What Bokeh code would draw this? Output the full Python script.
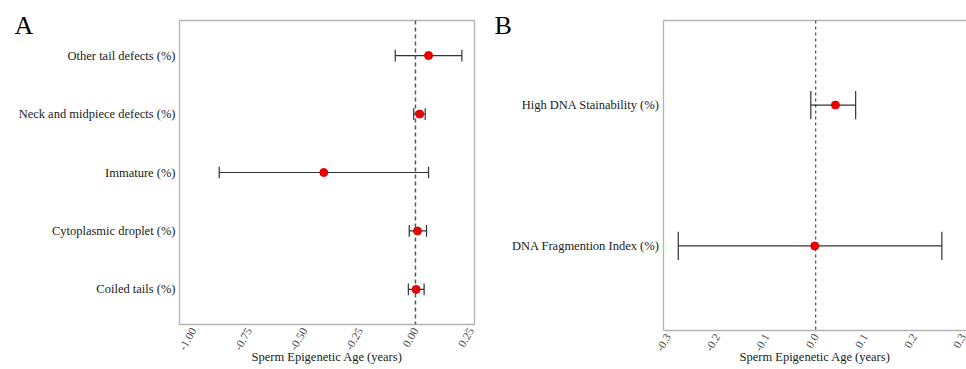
import math
from bokeh.plotting import figure
from bokeh.models import Range1d, FixedTicker, Span, LinearAxis, PrintfTickFormatter, ColumnDataSource
from bokeh.layouts import row
from bokeh.embed import file_html
from bokeh.resources import INLINE

# ---------------- data ----------------
a_labels = ["Other tail defects (%)", "Neck and midpiece defects (%)", "Immature (%)",
            "Cytoplasmic droplet (%)", "Coiled tails (%)"]
a_est = [0.059, 0.019, -0.413, 0.009, 0.003]
a_low = [-0.091, -0.008, -0.884, -0.028, -0.032]
a_high = [0.209, 0.044, 0.059, 0.050, 0.039]
a_ticks = [-1.0, -0.75, -0.5, -0.25, 0.0, 0.25]

b_labels = ["High DNA Stainability (%)", "DNA Fragmention Index (%)"]
b_est = [0.040, -0.002]
b_low = [-0.010, -0.279]
b_high = [0.081, 0.256]
b_ticks = [-0.3, -0.2, -0.1, 0.0, 0.1, 0.2, 0.3]

x_title = "Sperm Epigenetic Age (years)"

SERIF = "Liberation Serif"
BORDER = "#b3b3b3"


def panel(letter, labels, est, low, high, ticks, fmt, xr, width, height,
          border_left, border_right, border_bottom, label_standoff, title_standoff,
          dash_color, dash_width, dash, use_outline):
    n = len(labels)
    ypos = list(range(n, 0, -1))
    src = ColumnDataSource(dict(y=ypos, est=est, low=low, high=high,
                                y0=[v - 0.1 for v in ypos], y1=[v + 0.1 for v in ypos]))
    p = figure(width=width, height=height, x_range=Range1d(*xr), y_range=Range1d(0.4, n + 0.6),
               output_backend="svg", toolbar_location=None, frame_align=False,
               min_border_left=border_left, min_border_right=border_right,
               min_border_top=20, min_border_bottom=border_bottom)
    p.grid.visible = False
    p.background_fill_color = "white"
    p.border_fill_color = "white"
    if use_outline:
        p.outline_line_color = BORDER
        p.outline_line_width = 1.3
    else:
        p.outline_line_color = None

    # panel letter as the (left aligned) title
    p.title.text = letter
    p.title.align = "left"
    p.title.offset = -(border_left - 14)
    p.title.vertical_align = "bottom"
    p.title.standoff = -38
    p.title.text_font = SERIF
    p.title.text_font_size = "26px"
    p.title.text_font_style = "normal"
    p.title.text_color = "black"

    # x axis
    xa = p.xaxis[0]
    xa.ticker = FixedTicker(ticks=ticks)
    xa.formatter = PrintfTickFormatter(format=fmt)
    xa.major_label_orientation = math.pi / 3
    xa.major_label_text_font = SERIF
    xa.major_label_text_font_size = "11.5px"
    xa.major_label_text_color = "#4d4d4d"
    xa.major_label_standoff = label_standoff
    xa.major_tick_out = 0
    xa.major_tick_in = 0
    xa.major_tick_line_color = None
    xa.minor_tick_line_color = None
    xa.axis_line_color = None if use_outline else BORDER
    xa.axis_line_width = 1.3
    xa.axis_label = x_title
    xa.axis_label_standoff = title_standoff
    xa.axis_label_text_font = SERIF
    xa.axis_label_text_font_size = "12.5px"
    xa.axis_label_text_font_style = "normal"
    xa.axis_label_text_color = "#1a1a1a"

    # y axis
    ya = p.yaxis[0]
    ya.ticker = FixedTicker(ticks=ypos)
    ya.major_label_overrides = {y: lab for y, lab in zip(ypos, labels)}
    ya.major_label_text_font = SERIF
    ya.major_label_text_font_size = "12.5px"
    ya.major_label_text_color = "#1a1a1a"
    ya.major_label_standoff = 4
    ya.major_tick_out = 0
    ya.major_tick_in = 0
    ya.major_tick_line_color = None
    ya.minor_tick_line_color = None
    ya.axis_line_color = None if use_outline else BORDER
    ya.axis_line_width = 1.3

    if not use_outline:
        top = LinearAxis(ticker=FixedTicker(ticks=[]), axis_line_color=BORDER, axis_line_width=1.3,
                         major_tick_line_color=None, minor_tick_line_color=None,
                         major_tick_out=0, major_tick_in=0, major_label_standoff=0,
                         major_label_text_color=None)
        p.add_layout(top, "above")

    p.add_layout(Span(location=0, dimension="height", line_color=dash_color,
                      line_width=dash_width, line_dash=dash))

    p.segment(x0="low", y0="y", x1="high", y1="y", source=src, line_color="#333333", line_width=1.2)
    p.segment(x0="low", y0="y0", x1="low", y1="y1", source=src, line_color="#333333", line_width=1.2)
    p.segment(x0="high", y0="y0", x1="high", y1="y1", source=src, line_color="#333333", line_width=1.2)
    p.scatter(x="est", y="y", source=src, size=8, fill_color="#ee0000", line_color="#dd0000")
    return p


pA = panel("A", a_labels, a_est, a_low, a_high, a_ticks, "%.2f", (-1.063, 0.266),
           480, 369, 179, 6, 45, 4, -6, "#555555", 1.5, "4 3", True)
pB = panel("B", b_labels, b_est, b_low, b_high, b_ticks, "%.1f", (-0.309, 0.306),
           486, 369, 183, 0, 39, 4, -7, "#222222", 1.0, "3 3", False)

layout = row(pA, pB)
open("out.html", "w").write(file_html(layout, INLINE))
